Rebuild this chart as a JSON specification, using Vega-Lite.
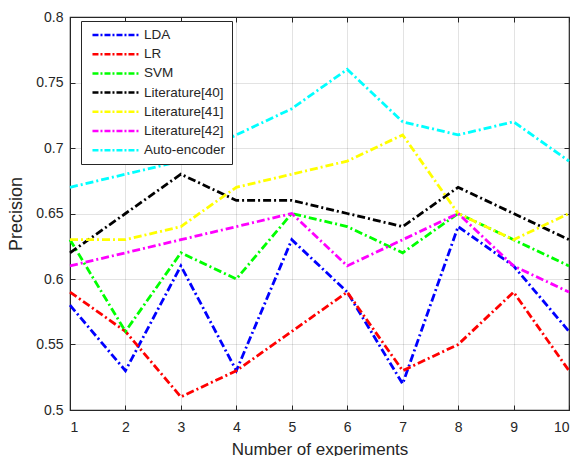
{
  "$schema": "https://vega.github.io/schema/vega-lite/v6.json",
  "width": 499,
  "height": 393,
  "autosize": "none",
  "padding": {"left": 70, "top": 17, "right": 4, "bottom": 46},
  "background": "white",
  "config": {
    "font": "Liberation Sans",
    "view": {"stroke": "#262626", "strokeWidth": 1.2},
    "axis": {
      "domainColor": "#262626",
      "tickColor": "#262626",
      "labelColor": "#262626",
      "titleColor": "#262626",
      "labelFontSize": 14,
      "titleFontSize": 17,
      "titleFontWeight": "normal",
      "gridColor": "#262626",
      "gridOpacity": 0.13,
      "tickSize": -5,
      "labelPadding": 12
    }
  },
  "data": {
    "values": [
      {"x": 1, "model": "LDA", "value": 0.58},
      {"x": 2, "model": "LDA", "value": 0.53},
      {"x": 3, "model": "LDA", "value": 0.61},
      {"x": 4, "model": "LDA", "value": 0.53},
      {"x": 5, "model": "LDA", "value": 0.63},
      {"x": 6, "model": "LDA", "value": 0.59},
      {"x": 7, "model": "LDA", "value": 0.52},
      {"x": 8, "model": "LDA", "value": 0.64},
      {"x": 9, "model": "LDA", "value": 0.61},
      {"x": 10, "model": "LDA", "value": 0.56},
      {"x": 1, "model": "LR", "value": 0.59},
      {"x": 2, "model": "LR", "value": 0.56},
      {"x": 3, "model": "LR", "value": 0.51},
      {"x": 4, "model": "LR", "value": 0.53},
      {"x": 5, "model": "LR", "value": 0.56},
      {"x": 6, "model": "LR", "value": 0.59},
      {"x": 7, "model": "LR", "value": 0.53},
      {"x": 8, "model": "LR", "value": 0.55},
      {"x": 9, "model": "LR", "value": 0.59},
      {"x": 10, "model": "LR", "value": 0.53},
      {"x": 1, "model": "SVM", "value": 0.63},
      {"x": 2, "model": "SVM", "value": 0.56},
      {"x": 3, "model": "SVM", "value": 0.62},
      {"x": 4, "model": "SVM", "value": 0.60},
      {"x": 5, "model": "SVM", "value": 0.65},
      {"x": 6, "model": "SVM", "value": 0.64},
      {"x": 7, "model": "SVM", "value": 0.62},
      {"x": 8, "model": "SVM", "value": 0.65},
      {"x": 9, "model": "SVM", "value": 0.63},
      {"x": 10, "model": "SVM", "value": 0.61},
      {"x": 1, "model": "Literature[40]", "value": 0.62},
      {"x": 2, "model": "Literature[40]", "value": 0.65},
      {"x": 3, "model": "Literature[40]", "value": 0.68},
      {"x": 4, "model": "Literature[40]", "value": 0.66},
      {"x": 5, "model": "Literature[40]", "value": 0.66},
      {"x": 6, "model": "Literature[40]", "value": 0.65},
      {"x": 7, "model": "Literature[40]", "value": 0.64},
      {"x": 8, "model": "Literature[40]", "value": 0.67},
      {"x": 9, "model": "Literature[40]", "value": 0.65},
      {"x": 10, "model": "Literature[40]", "value": 0.63},
      {"x": 1, "model": "Literature[41]", "value": 0.63},
      {"x": 2, "model": "Literature[41]", "value": 0.63},
      {"x": 3, "model": "Literature[41]", "value": 0.64},
      {"x": 4, "model": "Literature[41]", "value": 0.67},
      {"x": 5, "model": "Literature[41]", "value": 0.68},
      {"x": 6, "model": "Literature[41]", "value": 0.69},
      {"x": 7, "model": "Literature[41]", "value": 0.71},
      {"x": 8, "model": "Literature[41]", "value": 0.65},
      {"x": 9, "model": "Literature[41]", "value": 0.63},
      {"x": 10, "model": "Literature[41]", "value": 0.65},
      {"x": 1, "model": "Literature[42]", "value": 0.61},
      {"x": 2, "model": "Literature[42]", "value": 0.62},
      {"x": 3, "model": "Literature[42]", "value": 0.63},
      {"x": 4, "model": "Literature[42]", "value": 0.64},
      {"x": 5, "model": "Literature[42]", "value": 0.65},
      {"x": 6, "model": "Literature[42]", "value": 0.61},
      {"x": 7, "model": "Literature[42]", "value": 0.63},
      {"x": 8, "model": "Literature[42]", "value": 0.65},
      {"x": 9, "model": "Literature[42]", "value": 0.61},
      {"x": 10, "model": "Literature[42]", "value": 0.59},
      {"x": 1, "model": "Auto-encoder", "value": 0.67},
      {"x": 2, "model": "Auto-encoder", "value": 0.68},
      {"x": 3, "model": "Auto-encoder", "value": 0.69},
      {"x": 4, "model": "Auto-encoder", "value": 0.71},
      {"x": 5, "model": "Auto-encoder", "value": 0.73},
      {"x": 6, "model": "Auto-encoder", "value": 0.76},
      {"x": 7, "model": "Auto-encoder", "value": 0.72},
      {"x": 8, "model": "Auto-encoder", "value": 0.71},
      {"x": 9, "model": "Auto-encoder", "value": 0.72},
      {"x": 10, "model": "Auto-encoder", "value": 0.69}
    ]
  },
  "layer": [
    {
      "mark": {"type": "line", "strokeWidth": 2.8, "strokeDash": [8, 3, 2, 3]},
      "encoding": {
        "x": {
          "field": "x", "type": "quantitative",
          "scale": {"domain": [1, 10], "nice": false, "zero": false},
          "axis": {"values": [1, 2, 3, 4, 5, 6, 7, 8, 9, 10], "title": "Number of experiments", "titlePadding": 7, "labelPadding": 15}
        },
        "y": {
          "field": "value", "type": "quantitative",
          "scale": {"domain": [0.5, 0.8], "nice": false, "zero": false},
          "axis": {"values": [0.5, 0.55, 0.6, 0.65, 0.7, 0.75, 0.8], "format": ".2~f", "title": "Precision", "titlePadding": 10, "titleFontSize": 18}
        },
        "color": {
          "field": "model", "type": "nominal",
          "scale": {
            "domain": ["LDA", "LR", "SVM", "Literature[40]", "Literature[41]", "Literature[42]", "Auto-encoder"],
            "range": ["#0000ff", "#ff0000", "#00ff00", "#000000", "#ffff00", "#ff00ff", "#00ffff"]
          },
          "legend": {
            "title": null,
            "orient": "none",
            "legendX": 11,
            "legendY": 4,
            "padding": 6.5,
            "strokeColor": "#262626",
            "fillColor": "white",
            "symbolType": "M-0.42,0L7.42,0",
            "symbolSize": 144,
            "symbolStrokeWidth": 2.5,
            "symbolDash": [6, 2, 2, 2],
            "symbolFillColor": "transparent",
            "labelFontSize": 13.5,
            "labelColor": "#262626",
            "labelOffset": 41.5,
            "rowPadding": 5.2
          }
        }
      }
    },
    {
      "mark": {"type": "line", "opacity": 0},
      "encoding": {
        "x": {"field": "x", "type": "quantitative", "axis": {"orient": "top", "values": [1, 2, 3, 4, 5, 6, 7, 8, 9, 10], "labels": false, "grid": false, "title": null, "domain": false}},
        "y": {"field": "value", "type": "quantitative", "axis": {"orient": "right", "values": [0.5, 0.55, 0.6, 0.65, 0.7, 0.75, 0.8], "labels": false, "grid": false, "title": null, "domain": false}},
        "detail": {"field": "model"}
      }
    }
  ],
  "resolve": {"axis": {"x": "independent", "y": "independent"}}
}
